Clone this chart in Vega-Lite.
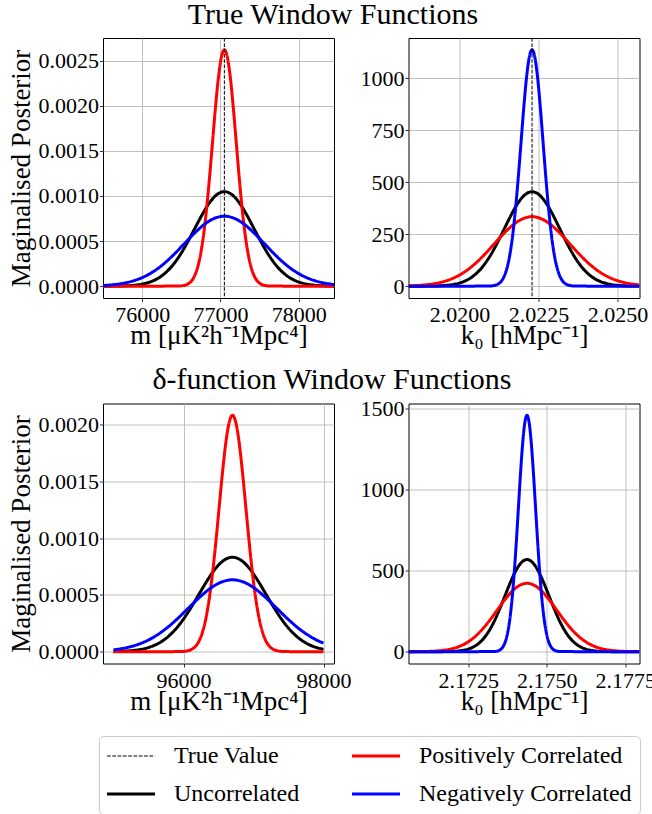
{
"$schema": "https://vega.github.io/schema/vega-lite/v6.json",
"background": "white",
"padding": {"left": 6, "top": 0, "right": 0, "bottom": 0},
"config": {
  "font": "Liberation Serif",
  "view": {"stroke": "black", "strokeWidth": 1},
  "axis": {"labelFont": "Liberation Serif", "labelFontSize": 22, "labelColor": "black", "titleFont": "Liberation Serif", "titleFontSize": 27, "titleFontWeight": "normal", "titleColor": "black", "gridColor": "#b0b0b0", "gridWidth": 0.8, "gridOpacity": 1, "tickColor": "black", "tickSize": 3.5, "tickWidth": 0.8, "domain": false, "labelFlush": false, "labelOverlap": false, "labelBound": false},
  "axisX": {"labelPadding": 3, "titlePadding": -3},
  "axisY": {"labelPadding": 1, "titlePadding": 3},
  "legend": {"orient": "none", "legendX": -4, "legendY": 698, "columns": 2, "symbolType": "M-2,0H2", "symbolSize": 576, "symbolOffset": 12, "symbolStrokeWidth": 3, "labelFont": "Liberation Serif", "labelFontSize": 24, "labelColor": "black", "labelOffset": 31, "labelLimit": 500, "columnPadding": 46, "rowPadding": 14, "padding": 8, "strokeColor": "#cccccc", "fillColor": "white", "cornerRadius": 4, "gridAlign": "each"},
  "title": {"font": "Liberation Serif", "fontSize": 30, "fontWeight": "normal", "color": "black", "offset": 7, "anchor": "middle"}
},
"datasets": {
  "truth": [{"p": "A", "s": "True Value", "x": 77050}, {"p": "B", "s": "True Value", "x": 2.0223}],
  "curves": [
{"p":"A","s":"Uncorrelated","x":75500,"y":0.0000003},
{"p":"A","s":"Uncorrelated","x":75530,"y":0.00000035},
{"p":"A","s":"Uncorrelated","x":75720,"y":0.0000023},
{"p":"A","s":"Uncorrelated","x":75815,"y":0.00000533},
{"p":"A","s":"Uncorrelated","x":75910,"y":0.00001164},
{"p":"A","s":"Uncorrelated","x":76005,"y":0.00002388},
{"p":"A","s":"Uncorrelated","x":76100,"y":0.00004605},
{"p":"A","s":"Uncorrelated","x":76195,"y":0.00008338},
{"p":"A","s":"Uncorrelated","x":76290,"y":0.00014184},
{"p":"A","s":"Uncorrelated","x":76385,"y":0.00022665},
{"p":"A","s":"Uncorrelated","x":76480,"y":0.00034023},
{"p":"A","s":"Uncorrelated","x":76575,"y":0.00047981},
{"p":"A","s":"Uncorrelated","x":76670,"y":0.00063564},
{"p":"A","s":"Uncorrelated","x":76765,"y":0.00079107},
{"p":"A","s":"Uncorrelated","x":76860,"y":0.00092486},
{"p":"A","s":"Uncorrelated","x":76955,"y":0.0010158},
{"p":"A","s":"Uncorrelated","x":77050,"y":0.001048},
{"p":"A","s":"Uncorrelated","x":77145,"y":0.0010158},
{"p":"A","s":"Uncorrelated","x":77240,"y":0.00092486},
{"p":"A","s":"Uncorrelated","x":77335,"y":0.00079107},
{"p":"A","s":"Uncorrelated","x":77430,"y":0.00063564},
{"p":"A","s":"Uncorrelated","x":77525,"y":0.00047981},
{"p":"A","s":"Uncorrelated","x":77620,"y":0.00034023},
{"p":"A","s":"Uncorrelated","x":77715,"y":0.00022665},
{"p":"A","s":"Uncorrelated","x":77810,"y":0.00014184},
{"p":"A","s":"Uncorrelated","x":77905,"y":0.00008338},
{"p":"A","s":"Uncorrelated","x":78000,"y":0.00004605},
{"p":"A","s":"Uncorrelated","x":78095,"y":0.00002388},
{"p":"A","s":"Uncorrelated","x":78190,"y":0.00001164},
{"p":"A","s":"Uncorrelated","x":78285,"y":0.00000533},
{"p":"A","s":"Uncorrelated","x":78380,"y":0.0000023},
{"p":"A","s":"Uncorrelated","x":78450,"y":0.0000012},
{"p":"A","s":"Positively Correlated","x":75500,"y":0},
{"p":"A","s":"Positively Correlated","x":76442,"y":0.0000009},
{"p":"A","s":"Positively Correlated","x":76518,"y":0.0000057},
{"p":"A","s":"Positively Correlated","x":76556,"y":0.0000133},
{"p":"A","s":"Positively Correlated","x":76594,"y":0.0000291},
{"p":"A","s":"Positively Correlated","x":76632,"y":0.0000597},
{"p":"A","s":"Positively Correlated","x":76670,"y":0.0001151},
{"p":"A","s":"Positively Correlated","x":76708,"y":0.0002084},
{"p":"A","s":"Positively Correlated","x":76746,"y":0.0003546},
{"p":"A","s":"Positively Correlated","x":76784,"y":0.0005666},
{"p":"A","s":"Positively Correlated","x":76822,"y":0.0008506},
{"p":"A","s":"Positively Correlated","x":76860,"y":0.0011995},
{"p":"A","s":"Positively Correlated","x":76898,"y":0.0015891},
{"p":"A","s":"Positively Correlated","x":76936,"y":0.0019777},
{"p":"A","s":"Positively Correlated","x":76974,"y":0.0023122},
{"p":"A","s":"Positively Correlated","x":77012,"y":0.0025394},
{"p":"A","s":"Positively Correlated","x":77050,"y":0.00262},
{"p":"A","s":"Positively Correlated","x":77088,"y":0.0025394},
{"p":"A","s":"Positively Correlated","x":77126,"y":0.0023122},
{"p":"A","s":"Positively Correlated","x":77164,"y":0.0019777},
{"p":"A","s":"Positively Correlated","x":77202,"y":0.0015891},
{"p":"A","s":"Positively Correlated","x":77240,"y":0.0011995},
{"p":"A","s":"Positively Correlated","x":77278,"y":0.0008506},
{"p":"A","s":"Positively Correlated","x":77316,"y":0.0005666},
{"p":"A","s":"Positively Correlated","x":77354,"y":0.0003546},
{"p":"A","s":"Positively Correlated","x":77392,"y":0.0002084},
{"p":"A","s":"Positively Correlated","x":77430,"y":0.0001151},
{"p":"A","s":"Positively Correlated","x":77468,"y":0.0000597},
{"p":"A","s":"Positively Correlated","x":77506,"y":0.0000291},
{"p":"A","s":"Positively Correlated","x":77544,"y":0.0000133},
{"p":"A","s":"Positively Correlated","x":77582,"y":0.0000057},
{"p":"A","s":"Positively Correlated","x":77658,"y":0.0000009},
{"p":"A","s":"Positively Correlated","x":78450,"y":0},
{"p":"A","s":"Negatively Correlated","x":75500,"y":0.00000795},
{"p":"A","s":"Negatively Correlated","x":75514,"y":0.00000862},
{"p":"A","s":"Negatively Correlated","x":75642,"y":0.00001769},
{"p":"A","s":"Negatively Correlated","x":75770,"y":0.0000341},
{"p":"A","s":"Negatively Correlated","x":75898,"y":0.00006174},
{"p":"A","s":"Negatively Correlated","x":76026,"y":0.00010502},
{"p":"A","s":"Negatively Correlated","x":76154,"y":0.00016783},
{"p":"A","s":"Negatively Correlated","x":76282,"y":0.00025193},
{"p":"A","s":"Negatively Correlated","x":76410,"y":0.00035528},
{"p":"A","s":"Negatively Correlated","x":76538,"y":0.00047067},
{"p":"A","s":"Negatively Correlated","x":76666,"y":0.00058576},
{"p":"A","s":"Negatively Correlated","x":76794,"y":0.0006848},
{"p":"A","s":"Negatively Correlated","x":76922,"y":0.00075212},
{"p":"A","s":"Negatively Correlated","x":77050,"y":0.000776},
{"p":"A","s":"Negatively Correlated","x":77178,"y":0.00075212},
{"p":"A","s":"Negatively Correlated","x":77306,"y":0.0006848},
{"p":"A","s":"Negatively Correlated","x":77434,"y":0.00058576},
{"p":"A","s":"Negatively Correlated","x":77562,"y":0.00047067},
{"p":"A","s":"Negatively Correlated","x":77690,"y":0.00035528},
{"p":"A","s":"Negatively Correlated","x":77818,"y":0.00025193},
{"p":"A","s":"Negatively Correlated","x":77946,"y":0.00016783},
{"p":"A","s":"Negatively Correlated","x":78074,"y":0.00010502},
{"p":"A","s":"Negatively Correlated","x":78202,"y":0.00006174},
{"p":"A","s":"Negatively Correlated","x":78330,"y":0.0000341},
{"p":"A","s":"Negatively Correlated","x":78450,"y":0.00001847},
{"p":"B","s":"Uncorrelated","x":2.01839,"y":0.05},
{"p":"B","s":"Uncorrelated","x":2.01878,"y":0.15},
{"p":"B","s":"Uncorrelated","x":2.01922,"y":0.99},
{"p":"B","s":"Uncorrelated","x":2.01944,"y":2.31},
{"p":"B","s":"Uncorrelated","x":2.01966,"y":5.04},
{"p":"B","s":"Uncorrelated","x":2.01988,"y":10.35},
{"p":"B","s":"Uncorrelated","x":2.0201,"y":19.95},
{"p":"B","s":"Uncorrelated","x":2.02032,"y":36.12},
{"p":"B","s":"Uncorrelated","x":2.02054,"y":61.44},
{"p":"B","s":"Uncorrelated","x":2.02076,"y":98.19},
{"p":"B","s":"Uncorrelated","x":2.02098,"y":147.39},
{"p":"B","s":"Uncorrelated","x":2.0212,"y":207.85},
{"p":"B","s":"Uncorrelated","x":2.02142,"y":275.36},
{"p":"B","s":"Uncorrelated","x":2.02164,"y":342.7},
{"p":"B","s":"Uncorrelated","x":2.02186,"y":400.66},
{"p":"B","s":"Uncorrelated","x":2.02208,"y":440.03},
{"p":"B","s":"Uncorrelated","x":2.0223,"y":454},
{"p":"B","s":"Uncorrelated","x":2.02252,"y":440.03},
{"p":"B","s":"Uncorrelated","x":2.02274,"y":400.66},
{"p":"B","s":"Uncorrelated","x":2.02296,"y":342.7},
{"p":"B","s":"Uncorrelated","x":2.02318,"y":275.36},
{"p":"B","s":"Uncorrelated","x":2.0234,"y":207.85},
{"p":"B","s":"Uncorrelated","x":2.02362,"y":147.39},
{"p":"B","s":"Uncorrelated","x":2.02384,"y":98.19},
{"p":"B","s":"Uncorrelated","x":2.02406,"y":61.44},
{"p":"B","s":"Uncorrelated","x":2.02428,"y":36.12},
{"p":"B","s":"Uncorrelated","x":2.0245,"y":19.95},
{"p":"B","s":"Uncorrelated","x":2.02472,"y":10.35},
{"p":"B","s":"Uncorrelated","x":2.02494,"y":5.04},
{"p":"B","s":"Uncorrelated","x":2.02516,"y":2.31},
{"p":"B","s":"Uncorrelated","x":2.02538,"y":0.99},
{"p":"B","s":"Uncorrelated","x":2.0257,"y":0.26},
{"p":"B","s":"Positively Correlated","x":2.01839,"y":1.68},
{"p":"B","s":"Positively Correlated","x":2.0187,"y":3.71},
{"p":"B","s":"Positively Correlated","x":2.019,"y":7.61},
{"p":"B","s":"Positively Correlated","x":2.0193,"y":14.68},
{"p":"B","s":"Positively Correlated","x":2.0196,"y":26.57},
{"p":"B","s":"Positively Correlated","x":2.0199,"y":45.2},
{"p":"B","s":"Positively Correlated","x":2.0202,"y":72.23},
{"p":"B","s":"Positively Correlated","x":2.0205,"y":108.43},
{"p":"B","s":"Positively Correlated","x":2.0208,"y":152.92},
{"p":"B","s":"Positively Correlated","x":2.0211,"y":202.58},
{"p":"B","s":"Positively Correlated","x":2.0214,"y":252.12},
{"p":"B","s":"Positively Correlated","x":2.0217,"y":294.76},
{"p":"B","s":"Positively Correlated","x":2.022,"y":323.72},
{"p":"B","s":"Positively Correlated","x":2.0223,"y":334},
{"p":"B","s":"Positively Correlated","x":2.0226,"y":323.72},
{"p":"B","s":"Positively Correlated","x":2.0229,"y":294.76},
{"p":"B","s":"Positively Correlated","x":2.0232,"y":252.12},
{"p":"B","s":"Positively Correlated","x":2.0235,"y":202.58},
{"p":"B","s":"Positively Correlated","x":2.0238,"y":152.92},
{"p":"B","s":"Positively Correlated","x":2.0241,"y":108.43},
{"p":"B","s":"Positively Correlated","x":2.0244,"y":72.23},
{"p":"B","s":"Positively Correlated","x":2.0247,"y":45.2},
{"p":"B","s":"Positively Correlated","x":2.025,"y":26.57},
{"p":"B","s":"Positively Correlated","x":2.0253,"y":14.68},
{"p":"B","s":"Positively Correlated","x":2.0256,"y":7.61},
{"p":"B","s":"Positively Correlated","x":2.0257,"y":6.03},
{"p":"B","s":"Negatively Correlated","x":2.01839,"y":0},
{"p":"B","s":"Negatively Correlated","x":2.0209,"y":0.38},
{"p":"B","s":"Negatively Correlated","x":2.021075,"y":2.49},
{"p":"B","s":"Negatively Correlated","x":2.0211625,"y":5.78},
{"p":"B","s":"Negatively Correlated","x":2.02125,"y":12.62},
{"p":"B","s":"Negatively Correlated","x":2.0213375,"y":25.89},
{"p":"B","s":"Negatively Correlated","x":2.021425,"y":49.92},
{"p":"B","s":"Negatively Correlated","x":2.0215125,"y":90.38},
{"p":"B","s":"Negatively Correlated","x":2.0216,"y":153.75},
{"p":"B","s":"Negatively Correlated","x":2.0216875,"y":245.68},
{"p":"B","s":"Negatively Correlated","x":2.021775,"y":368.8},
{"p":"B","s":"Negatively Correlated","x":2.0218625,"y":520.09},
{"p":"B","s":"Negatively Correlated","x":2.02195,"y":689.02},
{"p":"B","s":"Negatively Correlated","x":2.0220375,"y":857.5},
{"p":"B","s":"Negatively Correlated","x":2.022125,"y":1002.52},
{"p":"B","s":"Negatively Correlated","x":2.0222125,"y":1101.05},
{"p":"B","s":"Negatively Correlated","x":2.0223,"y":1136},
{"p":"B","s":"Negatively Correlated","x":2.0223875,"y":1101.05},
{"p":"B","s":"Negatively Correlated","x":2.022475,"y":1002.52},
{"p":"B","s":"Negatively Correlated","x":2.0225625,"y":857.5},
{"p":"B","s":"Negatively Correlated","x":2.02265,"y":689.02},
{"p":"B","s":"Negatively Correlated","x":2.0227375,"y":520.09},
{"p":"B","s":"Negatively Correlated","x":2.022825,"y":368.8},
{"p":"B","s":"Negatively Correlated","x":2.0229125,"y":245.68},
{"p":"B","s":"Negatively Correlated","x":2.023,"y":153.75},
{"p":"B","s":"Negatively Correlated","x":2.0230875,"y":90.38},
{"p":"B","s":"Negatively Correlated","x":2.023175,"y":49.92},
{"p":"B","s":"Negatively Correlated","x":2.0232625,"y":25.89},
{"p":"B","s":"Negatively Correlated","x":2.02335,"y":12.62},
{"p":"B","s":"Negatively Correlated","x":2.0234375,"y":5.78},
{"p":"B","s":"Negatively Correlated","x":2.023525,"y":2.49},
{"p":"B","s":"Negatively Correlated","x":2.0237,"y":0.38},
{"p":"B","s":"Negatively Correlated","x":2.0257,"y":0},
{"p":"C","s":"Uncorrelated","x":95000,"y":0.00000157},
{"p":"C","s":"Uncorrelated","x":95020,"y":0.00000182},
{"p":"C","s":"Uncorrelated","x":95140,"y":0.00000423},
{"p":"C","s":"Uncorrelated","x":95260,"y":0.00000924},
{"p":"C","s":"Uncorrelated","x":95380,"y":0.00001896},
{"p":"C","s":"Uncorrelated","x":95500,"y":0.00003656},
{"p":"C","s":"Uncorrelated","x":95620,"y":0.00006619},
{"p":"C","s":"Uncorrelated","x":95740,"y":0.0001126},
{"p":"C","s":"Uncorrelated","x":95860,"y":0.00017994},
{"p":"C","s":"Uncorrelated","x":95980,"y":0.00027011},
{"p":"C","s":"Uncorrelated","x":96100,"y":0.00038091},
{"p":"C","s":"Uncorrelated","x":96220,"y":0.00050463},
{"p":"C","s":"Uncorrelated","x":96340,"y":0.00062803},
{"p":"C","s":"Uncorrelated","x":96460,"y":0.00073424},
{"p":"C","s":"Uncorrelated","x":96580,"y":0.0008064},
{"p":"C","s":"Uncorrelated","x":96700,"y":0.000832},
{"p":"C","s":"Uncorrelated","x":96820,"y":0.0008064},
{"p":"C","s":"Uncorrelated","x":96940,"y":0.00073424},
{"p":"C","s":"Uncorrelated","x":97060,"y":0.00062803},
{"p":"C","s":"Uncorrelated","x":97180,"y":0.00050463},
{"p":"C","s":"Uncorrelated","x":97300,"y":0.00038091},
{"p":"C","s":"Uncorrelated","x":97420,"y":0.00027011},
{"p":"C","s":"Uncorrelated","x":97540,"y":0.00017994},
{"p":"C","s":"Uncorrelated","x":97660,"y":0.0001126},
{"p":"C","s":"Uncorrelated","x":97780,"y":0.00006619},
{"p":"C","s":"Uncorrelated","x":97900,"y":0.00003656},
{"p":"C","s":"Uncorrelated","x":98000,"y":0.00002126},
{"p":"C","s":"Positively Correlated","x":95000,"y":0},
{"p":"C","s":"Positively Correlated","x":95932,"y":0.0000007},
{"p":"C","s":"Positively Correlated","x":96028,"y":0.0000046},
{"p":"C","s":"Positively Correlated","x":96076,"y":0.0000106},
{"p":"C","s":"Positively Correlated","x":96124,"y":0.00002313},
{"p":"C","s":"Positively Correlated","x":96172,"y":0.00004745},
{"p":"C","s":"Positively Correlated","x":96220,"y":0.00009148},
{"p":"C","s":"Positively Correlated","x":96268,"y":0.00016564},
{"p":"C","s":"Positively Correlated","x":96316,"y":0.00028178},
{"p":"C","s":"Positively Correlated","x":96364,"y":0.00045027},
{"p":"C","s":"Positively Correlated","x":96412,"y":0.00067592},
{"p":"C","s":"Positively Correlated","x":96460,"y":0.0009532},
{"p":"C","s":"Positively Correlated","x":96508,"y":0.0012628},
{"p":"C","s":"Positively Correlated","x":96556,"y":0.0015716},
{"p":"C","s":"Positively Correlated","x":96604,"y":0.0018374},
{"p":"C","s":"Positively Correlated","x":96652,"y":0.0020179},
{"p":"C","s":"Positively Correlated","x":96700,"y":0.002082},
{"p":"C","s":"Positively Correlated","x":96748,"y":0.0020179},
{"p":"C","s":"Positively Correlated","x":96796,"y":0.0018374},
{"p":"C","s":"Positively Correlated","x":96844,"y":0.0015716},
{"p":"C","s":"Positively Correlated","x":96892,"y":0.0012628},
{"p":"C","s":"Positively Correlated","x":96940,"y":0.0009532},
{"p":"C","s":"Positively Correlated","x":96988,"y":0.00067592},
{"p":"C","s":"Positively Correlated","x":97036,"y":0.00045027},
{"p":"C","s":"Positively Correlated","x":97084,"y":0.00028178},
{"p":"C","s":"Positively Correlated","x":97132,"y":0.00016564},
{"p":"C","s":"Positively Correlated","x":97180,"y":0.00009148},
{"p":"C","s":"Positively Correlated","x":97228,"y":0.00004745},
{"p":"C","s":"Positively Correlated","x":97276,"y":0.00002313},
{"p":"C","s":"Positively Correlated","x":97324,"y":0.0000106},
{"p":"C","s":"Positively Correlated","x":97372,"y":0.0000046},
{"p":"C","s":"Positively Correlated","x":97468,"y":0.0000007},
{"p":"C","s":"Positively Correlated","x":98000,"y":0},
{"p":"C","s":"Negatively Correlated","x":95000,"y":0.0000166},
{"p":"C","s":"Negatively Correlated","x":95125,"y":0.00002781},
{"p":"C","s":"Negatively Correlated","x":95282.5,"y":0.00005036},
{"p":"C","s":"Negatively Correlated","x":95440,"y":0.00008567},
{"p":"C","s":"Negatively Correlated","x":95597.5,"y":0.0001369},
{"p":"C","s":"Negatively Correlated","x":95755,"y":0.0002055},
{"p":"C","s":"Negatively Correlated","x":95912.5,"y":0.00028981},
{"p":"C","s":"Negatively Correlated","x":96070,"y":0.00038393},
{"p":"C","s":"Negatively Correlated","x":96227.5,"y":0.00047781},
{"p":"C","s":"Negatively Correlated","x":96385,"y":0.00055862},
{"p":"C","s":"Negatively Correlated","x":96542.5,"y":0.00061352},
{"p":"C","s":"Negatively Correlated","x":96700,"y":0.000633},
{"p":"C","s":"Negatively Correlated","x":96857.5,"y":0.00061352},
{"p":"C","s":"Negatively Correlated","x":97015,"y":0.00055862},
{"p":"C","s":"Negatively Correlated","x":97172.5,"y":0.00047781},
{"p":"C","s":"Negatively Correlated","x":97330,"y":0.00038393},
{"p":"C","s":"Negatively Correlated","x":97487.5,"y":0.00028981},
{"p":"C","s":"Negatively Correlated","x":97645,"y":0.0002055},
{"p":"C","s":"Negatively Correlated","x":97802.5,"y":0.0001369},
{"p":"C","s":"Negatively Correlated","x":97960,"y":0.00008567},
{"p":"C","s":"Negatively Correlated","x":98000,"y":0.0000753},
{"p":"D","s":"Uncorrelated","x":2.1706,"y":0.02},
{"p":"D","s":"Uncorrelated","x":2.17157,"y":0.19},
{"p":"D","s":"Uncorrelated","x":2.17192,"y":1.24},
{"p":"D","s":"Uncorrelated","x":2.172095,"y":2.89},
{"p":"D","s":"Uncorrelated","x":2.17227,"y":6.3},
{"p":"D","s":"Uncorrelated","x":2.172445,"y":12.92},
{"p":"D","s":"Uncorrelated","x":2.17262,"y":24.91},
{"p":"D","s":"Uncorrelated","x":2.172795,"y":45.11},
{"p":"D","s":"Uncorrelated","x":2.17297,"y":76.74},
{"p":"D","s":"Uncorrelated","x":2.173145,"y":122.63},
{"p":"D","s":"Uncorrelated","x":2.17332,"y":184.08},
{"p":"D","s":"Uncorrelated","x":2.173495,"y":259.59},
{"p":"D","s":"Uncorrelated","x":2.17367,"y":343.9},
{"p":"D","s":"Uncorrelated","x":2.173845,"y":428},
{"p":"D","s":"Uncorrelated","x":2.17402,"y":500.38},
{"p":"D","s":"Uncorrelated","x":2.174195,"y":549.55},
{"p":"D","s":"Uncorrelated","x":2.17437,"y":567},
{"p":"D","s":"Uncorrelated","x":2.174545,"y":549.55},
{"p":"D","s":"Uncorrelated","x":2.17472,"y":500.38},
{"p":"D","s":"Uncorrelated","x":2.174895,"y":428},
{"p":"D","s":"Uncorrelated","x":2.17507,"y":343.9},
{"p":"D","s":"Uncorrelated","x":2.175245,"y":259.59},
{"p":"D","s":"Uncorrelated","x":2.17542,"y":184.08},
{"p":"D","s":"Uncorrelated","x":2.175595,"y":122.63},
{"p":"D","s":"Uncorrelated","x":2.17577,"y":76.74},
{"p":"D","s":"Uncorrelated","x":2.175945,"y":45.11},
{"p":"D","s":"Uncorrelated","x":2.17612,"y":24.91},
{"p":"D","s":"Uncorrelated","x":2.176295,"y":12.92},
{"p":"D","s":"Uncorrelated","x":2.17647,"y":6.3},
{"p":"D","s":"Uncorrelated","x":2.176645,"y":2.89},
{"p":"D","s":"Uncorrelated","x":2.17682,"y":1.24},
{"p":"D","s":"Uncorrelated","x":2.17717,"y":0.19},
{"p":"D","s":"Uncorrelated","x":2.17795,"y":0},
{"p":"D","s":"Positively Correlated","x":2.1706,"y":0.16},
{"p":"D","s":"Positively Correlated","x":2.171045,"y":0.92},
{"p":"D","s":"Positively Correlated","x":2.1712825,"y":2.14},
{"p":"D","s":"Positively Correlated","x":2.17152,"y":4.68},
{"p":"D","s":"Positively Correlated","x":2.1717575,"y":9.59},
{"p":"D","s":"Positively Correlated","x":2.171995,"y":18.5},
{"p":"D","s":"Positively Correlated","x":2.1722325,"y":33.49},
{"p":"D","s":"Positively Correlated","x":2.17247,"y":56.98},
{"p":"D","s":"Positively Correlated","x":2.1727075,"y":91.05},
{"p":"D","s":"Positively Correlated","x":2.172945,"y":136.68},
{"p":"D","s":"Positively Correlated","x":2.1731825,"y":192.75},
{"p":"D","s":"Positively Correlated","x":2.17342,"y":255.35},
{"p":"D","s":"Positively Correlated","x":2.1736575,"y":317.79},
{"p":"D","s":"Positively Correlated","x":2.173895,"y":371.53},
{"p":"D","s":"Positively Correlated","x":2.1741325,"y":408.05},
{"p":"D","s":"Positively Correlated","x":2.17437,"y":421},
{"p":"D","s":"Positively Correlated","x":2.1746075,"y":408.05},
{"p":"D","s":"Positively Correlated","x":2.174845,"y":371.53},
{"p":"D","s":"Positively Correlated","x":2.1750825,"y":317.79},
{"p":"D","s":"Positively Correlated","x":2.17532,"y":255.35},
{"p":"D","s":"Positively Correlated","x":2.1755575,"y":192.75},
{"p":"D","s":"Positively Correlated","x":2.175795,"y":136.68},
{"p":"D","s":"Positively Correlated","x":2.1760325,"y":91.05},
{"p":"D","s":"Positively Correlated","x":2.17627,"y":56.98},
{"p":"D","s":"Positively Correlated","x":2.1765075,"y":33.49},
{"p":"D","s":"Positively Correlated","x":2.176745,"y":18.5},
{"p":"D","s":"Positively Correlated","x":2.1769825,"y":9.59},
{"p":"D","s":"Positively Correlated","x":2.17722,"y":4.68},
{"p":"D","s":"Positively Correlated","x":2.1774575,"y":2.14},
{"p":"D","s":"Positively Correlated","x":2.177695,"y":0.92},
{"p":"D","s":"Positively Correlated","x":2.17795,"y":0.35},
{"p":"D","s":"Negatively Correlated","x":2.1706,"y":0},
{"p":"D","s":"Negatively Correlated","x":2.173274,"y":0.49},
{"p":"D","s":"Negatively Correlated","x":2.173411,"y":3.19},
{"p":"D","s":"Negatively Correlated","x":2.1734795,"y":7.41},
{"p":"D","s":"Negatively Correlated","x":2.173548,"y":16.17},
{"p":"D","s":"Negatively Correlated","x":2.1736165,"y":33.16},
{"p":"D","s":"Negatively Correlated","x":2.173685,"y":63.93},
{"p":"D","s":"Negatively Correlated","x":2.1737535,"y":115.76},
{"p":"D","s":"Negatively Correlated","x":2.173822,"y":196.92},
{"p":"D","s":"Negatively Correlated","x":2.1738905,"y":314.67},
{"p":"D","s":"Negatively Correlated","x":2.173959,"y":472.37},
{"p":"D","s":"Negatively Correlated","x":2.1740275,"y":666.14},
{"p":"D","s":"Negatively Correlated","x":2.174096,"y":882.5},
{"p":"D","s":"Negatively Correlated","x":2.1741645,"y":1098.29},
{"p":"D","s":"Negatively Correlated","x":2.174233,"y":1284.04},
{"p":"D","s":"Negatively Correlated","x":2.1743015,"y":1410.23},
{"p":"D","s":"Negatively Correlated","x":2.17437,"y":1455},
{"p":"D","s":"Negatively Correlated","x":2.1744385,"y":1410.23},
{"p":"D","s":"Negatively Correlated","x":2.174507,"y":1284.04},
{"p":"D","s":"Negatively Correlated","x":2.1745755,"y":1098.29},
{"p":"D","s":"Negatively Correlated","x":2.174644,"y":882.5},
{"p":"D","s":"Negatively Correlated","x":2.1747125,"y":666.14},
{"p":"D","s":"Negatively Correlated","x":2.174781,"y":472.37},
{"p":"D","s":"Negatively Correlated","x":2.1748495,"y":314.67},
{"p":"D","s":"Negatively Correlated","x":2.174918,"y":196.92},
{"p":"D","s":"Negatively Correlated","x":2.1749865,"y":115.76},
{"p":"D","s":"Negatively Correlated","x":2.175055,"y":63.93},
{"p":"D","s":"Negatively Correlated","x":2.1751235,"y":33.16},
{"p":"D","s":"Negatively Correlated","x":2.175192,"y":16.17},
{"p":"D","s":"Negatively Correlated","x":2.1752605,"y":7.41},
{"p":"D","s":"Negatively Correlated","x":2.175329,"y":3.19},
{"p":"D","s":"Negatively Correlated","x":2.175466,"y":0.49},
{"p":"D","s":"Negatively Correlated","x":2.17795,"y":0}
  ]
},
"vconcat": [
  {
    "title": {"text": "True Window Functions", "dx": 5.6},
    "spacing": 24.5,
    "hconcat": [
      {
        "width": 231, "height": 260,
        "layer": [
          {
            "data": {"name": "curves"},
            "transform": [{"filter": "datum.p == 'A'"}],
            "mark": {"type": "line", "clip": true, "interpolate": "monotone", "strokeWidth": 3},
            "encoding": {
              "x": {"field": "x", "type": "quantitative", "scale": {"domain": [75500, 78450], "nice": false, "zero": false}, "axis": {"values": [76000, 77000, 78000], "format": "d", "title": "m [μK²h⁻¹Mpc⁴]"}},
              "y": {"field": "y", "type": "quantitative", "scale": {"domain": [-0.000131, 0.002751], "nice": false, "zero": false}, "axis": {"values": [0, 0.0005, 0.001, 0.0015, 0.002, 0.0025], "format": ".4f", "title": "Maginalised Posterior"}},
              "color": {"field": "s", "type": "nominal", "scale": {"domain": ["True Value", "Uncorrelated", "Positively Correlated", "Negatively Correlated"], "range": ["#000000", "#000000", "#ff0000", "#0000ff"]}, "legend": {"title": null, "symbolType": "M-2,0H2", "encode": {"symbols": {"update": {"strokeWidth": {"signal": "datum.value === 'True Value' ? 1 : 3"}}}}}},
              "strokeDash": {"field": "s", "type": "nominal", "scale": {"domain": ["True Value", "Uncorrelated", "Positively Correlated", "Negatively Correlated"], "range": [[3.7, 1.6], [1, 0], [1, 0], [1, 0]]}, "legend": {"title": null, "symbolType": "M-2,0H2", "encode": {"symbols": {"update": {"strokeWidth": {"signal": "datum.value === 'True Value' ? 1 : 3"}}}}}}
            }
          },
          {
            "data": {"name": "truth"},
            "transform": [{"filter": "datum.p == 'A'"}],
            "mark": {"type": "rule", "strokeWidth": 1},
            "encoding": {
              "x": {"field": "x", "type": "quantitative"},
              "color": {"field": "s", "type": "nominal", "scale": {"domain": ["True Value", "Uncorrelated", "Positively Correlated", "Negatively Correlated"], "range": ["#000000", "#000000", "#ff0000", "#0000ff"]}, "legend": {"title": null, "symbolType": "M-2,0H2", "encode": {"symbols": {"update": {"strokeWidth": {"signal": "datum.value === 'True Value' ? 1 : 3"}}}}}},
              "strokeDash": {"field": "s", "type": "nominal", "scale": {"domain": ["True Value", "Uncorrelated", "Positively Correlated", "Negatively Correlated"], "range": [[3.7, 1.6], [1, 0], [1, 0], [1, 0]]}, "legend": {"title": null, "symbolType": "M-2,0H2", "encode": {"symbols": {"update": {"strokeWidth": {"signal": "datum.value === 'True Value' ? 1 : 3"}}}}}}
            }
          }
        ]
      },
      {
        "width": 231, "height": 260,
        "layer": [
          {
            "data": {"name": "curves"},
            "transform": [{"filter": "datum.p == 'B'"}],
            "mark": {"type": "line", "clip": true, "interpolate": "monotone", "strokeWidth": 3},
            "encoding": {
              "x": {"field": "x", "type": "quantitative", "scale": {"domain": [2.01839, 2.0257], "nice": false, "zero": false}, "axis": {"values": [2.02, 2.0225, 2.025], "format": ".4f", "title": "k₀ [hMpc⁻¹]"}},
              "y": {"field": "y", "type": "quantitative", "scale": {"domain": [-56.8, 1192.8], "nice": false, "zero": false}, "axis": {"values": [0, 250, 500, 750, 1000], "format": "d", "title": null}},
              "color": {"field": "s", "type": "nominal", "scale": {"domain": ["True Value", "Uncorrelated", "Positively Correlated", "Negatively Correlated"], "range": ["#000000", "#000000", "#ff0000", "#0000ff"]}, "legend": {"title": null, "symbolType": "M-2,0H2", "encode": {"symbols": {"update": {"strokeWidth": {"signal": "datum.value === 'True Value' ? 1 : 3"}}}}}},
              "strokeDash": {"field": "s", "type": "nominal", "scale": {"domain": ["True Value", "Uncorrelated", "Positively Correlated", "Negatively Correlated"], "range": [[3.7, 1.6], [1, 0], [1, 0], [1, 0]]}, "legend": {"title": null, "symbolType": "M-2,0H2", "encode": {"symbols": {"update": {"strokeWidth": {"signal": "datum.value === 'True Value' ? 1 : 3"}}}}}}
            }
          },
          {
            "data": {"name": "truth"},
            "transform": [{"filter": "datum.p == 'B'"}],
            "mark": {"type": "rule", "strokeWidth": 1},
            "encoding": {
              "x": {"field": "x", "type": "quantitative"},
              "color": {"field": "s", "type": "nominal", "scale": {"domain": ["True Value", "Uncorrelated", "Positively Correlated", "Negatively Correlated"], "range": ["#000000", "#000000", "#ff0000", "#0000ff"]}, "legend": {"title": null, "symbolType": "M-2,0H2", "encode": {"symbols": {"update": {"strokeWidth": {"signal": "datum.value === 'True Value' ? 1 : 3"}}}}}},
              "strokeDash": {"field": "s", "type": "nominal", "scale": {"domain": ["True Value", "Uncorrelated", "Positively Correlated", "Negatively Correlated"], "range": [[3.7, 1.6], [1, 0], [1, 0], [1, 0]]}, "legend": {"title": null, "symbolType": "M-2,0H2", "encode": {"symbols": {"update": {"strokeWidth": {"signal": "datum.value === 'True Value' ? 1 : 3"}}}}}}
            }
          }
        ]
      }
    ]
  },
  {
    "title": {"text": "δ-function Window Functions", "dx": 0.6, "offset": 2},
    "spacing": 7.5,
    "hconcat": [
      {
        "width": 231, "height": 260,
        "data": {"name": "curves"},
        "transform": [{"filter": "datum.p == 'C'"}],
        "mark": {"type": "line", "clip": true, "interpolate": "monotone", "strokeWidth": 3},
        "encoding": {
          "x": {"field": "x", "type": "quantitative", "scale": {"domain": [94850, 98150], "nice": false, "zero": false}, "axis": {"values": [96000, 98000], "format": "d", "title": "m [μK²h⁻¹Mpc⁴]"}},
          "y": {"field": "y", "type": "quantitative", "scale": {"domain": [-0.000104, 0.002186], "nice": false, "zero": false}, "axis": {"values": [0, 0.0005, 0.001, 0.0015, 0.002], "format": ".4f", "title": "Maginalised Posterior"}},
          "color": {"field": "s", "type": "nominal", "scale": {"domain": ["True Value", "Uncorrelated", "Positively Correlated", "Negatively Correlated"], "range": ["#000000", "#000000", "#ff0000", "#0000ff"]}, "legend": {"title": null, "symbolType": "M-2,0H2", "encode": {"symbols": {"update": {"strokeWidth": {"signal": "datum.value === 'True Value' ? 1 : 3"}}}}}},
          "strokeDash": {"field": "s", "type": "nominal", "scale": {"domain": ["True Value", "Uncorrelated", "Positively Correlated", "Negatively Correlated"], "range": [[3.7, 1.6], [1, 0], [1, 0], [1, 0]]}, "legend": {"title": null, "symbolType": "M-2,0H2", "encode": {"symbols": {"update": {"strokeWidth": {"signal": "datum.value === 'True Value' ? 1 : 3"}}}}}}
        }
      },
      {
        "width": 231, "height": 260,
        "data": {"name": "curves"},
        "transform": [{"filter": "datum.p == 'D'"}],
        "mark": {"type": "line", "clip": true, "interpolate": "monotone", "strokeWidth": 3},
        "encoding": {
          "x": {"field": "x", "type": "quantitative", "scale": {"domain": [2.1706, 2.17795], "nice": false, "zero": false}, "axis": {"values": [2.1725, 2.175, 2.1775], "format": ".4f", "title": "k₀ [hMpc⁻¹]"}},
          "y": {"field": "y", "type": "quantitative", "scale": {"domain": [-72.75, 1527.75], "nice": false, "zero": false}, "axis": {"values": [0, 500, 1000, 1500], "format": "d", "title": null}},
          "color": {"field": "s", "type": "nominal", "scale": {"domain": ["True Value", "Uncorrelated", "Positively Correlated", "Negatively Correlated"], "range": ["#000000", "#000000", "#ff0000", "#0000ff"]}, "legend": {"title": null, "symbolType": "M-2,0H2", "encode": {"symbols": {"update": {"strokeWidth": {"signal": "datum.value === 'True Value' ? 1 : 3"}}}}}},
          "strokeDash": {"field": "s", "type": "nominal", "scale": {"domain": ["True Value", "Uncorrelated", "Positively Correlated", "Negatively Correlated"], "range": [[3.7, 1.6], [1, 0], [1, 0], [1, 0]]}, "legend": {"title": null, "symbolType": "M-2,0H2", "encode": {"symbols": {"update": {"strokeWidth": {"signal": "datum.value === 'True Value' ? 1 : 3"}}}}}}
        }
      }
    ]
  }
],
"spacing": 15.5,
"resolve": {"scale": {"color": "shared", "strokeDash": "shared"}}
}
